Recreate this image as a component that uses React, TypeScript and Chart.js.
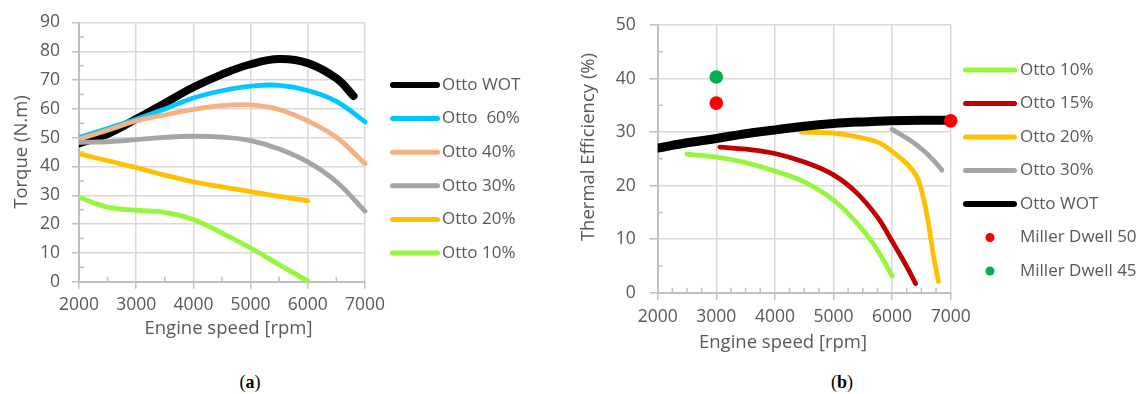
import { useEffect, useRef } from "react";
import { Chart, registerables } from "chart.js";

Chart.register(...registerables);

const FONT_FAMILY = "'Open Sans', sans-serif";
const TEXT_COLOR = "#595959";
const GRID_COLOR = "#d9d9d9";
const AXIS_COLOR = "#bfbfbf";

// ---- Panel (a): torque vs engine speed ----
const rpmTorqueFull = [2000, 2500, 3000, 3500, 4000, 4500, 5000, 5500, 6000, 6500, 7000];
const rpmTorqueWot = [2000, 2500, 3000, 3500, 4000, 4500, 5000, 5500, 6000, 6500, 6800];
const rpmTorqueLow = [2000, 2500, 3000, 3500, 4000, 4500, 5000, 5500, 6000];

const torqueWot = [48, 51.3, 56.5, 62, 67.5, 72, 75.5, 77.3, 75.9, 70.6, 64.5];
const torque60 = [50.1, 53.2, 56.4, 60, 63.8, 66.3, 67.9, 68.2, 66.4, 62.6, 55.5];
const torque40 = [49.5, 52.6, 55.8, 57.9, 59.8, 61.1, 61.4, 59.8, 55.8, 50.1, 41];
const torque30 = [48.4, 48.6, 49.3, 50.1, 50.5, 50.2, 49, 46.1, 41.6, 34.7, 24.5];
const torque20 = [44.4, 42, 39.6, 37, 34.7, 32.9, 31.3, 29.6, 28.1];
const torque10 = [29.3, 25.9, 24.8, 24.1, 21.6, 16.9, 11.7, 5.9, 0.2];

// ---- Panel (b): thermal efficiency vs engine speed ----
const rpmEffWot = [2000, 2500, 3000, 3500, 4000, 4500, 5000, 5500, 6000, 6500, 7000];
const effWot = [27, 28, 28.8, 29.7, 30.4, 31.1, 31.6, 31.9, 32.1, 32.2, 32.2];

const rpmEff10 = [2500, 3000, 3500, 4000, 4500, 5000, 5400, 5650, 5850, 6000];
const eff10 = [25.9, 25.3, 24.3, 22.7, 20.7, 17.3, 13, 9.6, 6.1, 3.1];

const rpmEff15 = [3060, 3500, 4000, 4500, 5000, 5400, 5750, 6000, 6250, 6400];
const eff15 = [27.2, 26.8, 26, 24.4, 22, 18.6, 14.1, 9.6, 4.9, 1.7];

const rpmEff20 = [4450, 5000, 5450, 5800, 6000, 6300, 6450, 6530, 6620, 6700, 6790];
const eff20 = [30, 29.8, 29, 27.9, 26.4, 23.5, 21, 17.9, 13, 7.3, 2.1];

const rpmEff30 = [6000, 6300, 6530, 6700, 6850];
const eff30 = [30.5, 28.5, 26.6, 24.8, 22.9];

const rpmMiller50 = [3000, 7000];
const effMiller50 = [35.4, 32.1];
const rpmMiller45 = [3000];
const effMiller45 = [40.3];

type Series = {
  label: string;
  rpm: number[];
  values: number[];
  color: string;
  width: number;
  legendWidth: number;
  dot?: boolean;
  monotone?: boolean;
};

const torqueSeries: Series[] = [
  { label: "Otto WOT", rpm: rpmTorqueWot, values: torqueWot, color: "#000000", width: 8, legendWidth: 6 },
  { label: "Otto  60%", rpm: rpmTorqueFull, values: torque60, color: "#00c8ff", width: 4.8, legendWidth: 5 },
  { label: "Otto 40%", rpm: rpmTorqueFull, values: torque40, color: "#f4b183", width: 4.8, legendWidth: 5 },
  { label: "Otto 30%", rpm: rpmTorqueFull, values: torque30, color: "#a5a5a5", width: 4.8, legendWidth: 5 },
  { label: "Otto 20%", rpm: rpmTorqueLow, values: torque20, color: "#ffc000", width: 4.8, legendWidth: 5 },
  { label: "Otto 10%", rpm: rpmTorqueLow, values: torque10, color: "#96f53c", width: 4.8, legendWidth: 5 },
];

const efficiencySeries: Series[] = [
  { label: "Otto 10%", rpm: rpmEff10, values: eff10, color: "#96f53c", width: 4.8, legendWidth: 5 },
  { label: "Otto 15%", rpm: rpmEff15, values: eff15, color: "#c00000", width: 4.8, legendWidth: 5 },
  { label: "Otto 20%", rpm: rpmEff20, values: eff20, color: "#ffc000", width: 4.8, legendWidth: 5, monotone: true },
  { label: "Otto 30%", rpm: rpmEff30, values: eff30, color: "#a5a5a5", width: 4.8, legendWidth: 5 },
  { label: "Otto WOT", rpm: rpmEffWot, values: effWot, color: "#000000", width: 9, legendWidth: 6 },
  { label: "Miller Dwell 50", rpm: rpmMiller50, values: effMiller50, color: "#ff0000", width: 0, legendWidth: 0, dot: true },
  { label: "Miller Dwell 45", rpm: rpmMiller45, values: effMiller45, color: "#00b050", width: 0, legendWidth: 0, dot: true },
];

const toPoints = (xs: number[], ys: number[]) => xs.map((x, i) => ({ x, y: ys[i] }));

function toDatasets(series: Series[]) {
  // Later series are painted over earlier ones, so feed them to Chart.js reversed.
  return [...series].reverse().map((s) =>
    s.dot
      ? {
          label: s.label,
          data: toPoints(s.rpm, s.values),
          showLine: false,
          pointRadius: 6.8,
          pointBackgroundColor: s.color,
          pointBorderWidth: 0,
          borderColor: s.color,
          clip: false as const,
        }
      : {
          label: s.label,
          data: toPoints(s.rpm, s.values),
          borderColor: s.color,
          borderWidth: s.width,
          borderCapStyle: "round" as const,
          borderJoinStyle: "round" as const,
          pointRadius: 0,
          tension: 0.4,
          cubicInterpolationMode: s.monotone ? ("monotone" as const) : ("default" as const),
          clip: { left: 0, top: 10, right: 10, bottom: 10 },
        }
  );
}

type Decor = {
  xMinorStep: number;
  yMinorStep: number;
  xTitle: { text: string; x: number; y: number };
  yTitle: { text: string; x: number; y: number };
  legend: { lineX0: number; lineX1: number; textX: number; y0: number; step: number; series: Series[] };
};

function decorPlugin(d: Decor) {
  return {
    id: "panelDecor",
    beforeDatasetsDraw(chart: any) {
      const { ctx, chartArea, scales } = chart;
      const xs = scales.x;
      const ys = scales.y;
      ctx.save();
      ctx.strokeStyle = AXIS_COLOR;
      ctx.lineWidth = 1.5;
      ctx.beginPath();
      for (let v = xs.min + d.xMinorStep; v < xs.max; v += d.xMinorStep) {
        if (v % 1000 === 0) continue;
        const px = xs.getPixelForValue(v);
        ctx.moveTo(px, chartArea.bottom);
        ctx.lineTo(px, chartArea.bottom - 5);
      }
      for (let v = ys.min + d.yMinorStep; v < ys.max; v += d.yMinorStep) {
        if (v % 10 === 0) continue;
        const py = ys.getPixelForValue(v);
        ctx.moveTo(chartArea.left, py);
        ctx.lineTo(chartArea.left + 5, py);
      }
      ctx.stroke();
      ctx.restore();
    },
    afterDraw(chart: any) {
      const { ctx } = chart;
      ctx.save();
      ctx.fillStyle = TEXT_COLOR;
      ctx.textAlign = "center";
      ctx.textBaseline = "middle";
      ctx.font = `18.5px ${FONT_FAMILY}`;
      ctx.fillText(d.xTitle.text, d.xTitle.x, d.xTitle.y);
      ctx.save();
      ctx.translate(d.yTitle.x, d.yTitle.y);
      ctx.rotate(-Math.PI / 2);
      ctx.fillText(d.yTitle.text, 0, 0);
      ctx.restore();

      const L = d.legend;
      ctx.font = `17px ${FONT_FAMILY}`;
      ctx.textAlign = "left";
      L.series.forEach((s, i) => {
        const y = L.y0 + i * L.step;
        if (s.dot) {
          ctx.fillStyle = s.color;
          ctx.beginPath();
          ctx.arc((L.lineX0 + L.lineX1) / 2, y, 4.5, 0, Math.PI * 2);
          ctx.fill();
        } else {
          ctx.strokeStyle = s.color;
          ctx.lineWidth = s.legendWidth;
          ctx.lineCap = "round";
          ctx.beginPath();
          ctx.moveTo(L.lineX0 + s.legendWidth / 2, y);
          ctx.lineTo(L.lineX1 - s.legendWidth / 2, y);
          ctx.stroke();
        }
        ctx.fillStyle = TEXT_COLOR;
        ctx.fillText(s.label, L.textX, y);
      });
      ctx.restore();
    },
  };
}

function axisOptions(opts: {
  min: number;
  max: number;
  step: number;
  tickPadding: number;
  tickLength: number;
  fit: (s: any) => void;
}) {
  return {
    type: "linear" as const,
    min: opts.min,
    max: opts.max,
    ticks: {
      stepSize: opts.step,
      color: TEXT_COLOR,
      font: { family: FONT_FAMILY, size: 17.5 },
      padding: opts.tickPadding,
      maxRotation: 0,
      autoSkip: false,
      callback: (v: any) => String(v),
    },
    grid: {
      color: GRID_COLOR,
      lineWidth: 1.5,
      tickLength: opts.tickLength,
      tickColor: AXIS_COLOR,
      tickWidth: 1.5,
    },
    border: { color: AXIS_COLOR, width: 2 },
    afterFit: opts.fit,
  };
}

function buildTorqueConfig() {
  return {
    type: "line" as const,
    data: { datasets: toDatasets(torqueSeries) },
    options: {
      responsive: false,
      animation: false as const,
      devicePixelRatio: 1,
      events: [],
      layout: { padding: { left: 4, top: 18.5, right: 195, bottom: 18.3 } },
      plugins: { legend: { display: false }, tooltip: { enabled: false } },
      scales: {
        x: axisOptions({ min: 2000, max: 7000, step: 1000, tickPadding: 6, tickLength: 7, fit: (s) => { s.height = 60; } }),
        y: axisOptions({ min: 0, max: 90, step: 10, tickPadding: 12, tickLength: 7, fit: (s) => { s.width = 75; } }),
      },
    },
    plugins: [
      decorPlugin({
        xMinorStep: 500,
        yMinorStep: 5,
        xTitle: { text: "Engine speed [rpm]", x: 228.5, y: 329 },
        yTitle: { text: "Torque (N.m)", x: 22, y: 152 },
        legend: { lineX0: 390, lineX1: 440, textX: 442, y0: 85, step: 33.6, series: torqueSeries },
      }),
    ],
  };
}

function buildEfficiencyConfig() {
  return {
    type: "line" as const,
    data: { datasets: toDatasets(efficiencySeries) },
    options: {
      responsive: false,
      animation: false as const,
      devicePixelRatio: 1,
      events: [],
      layout: { padding: { left: 4, top: 25, right: 194.3, bottom: 5.3 } },
      plugins: { legend: { display: false }, tooltip: { enabled: false } },
      scales: {
        x: axisOptions({ min: 2000, max: 7000, step: 1000, tickPadding: 7, tickLength: 7, fit: (s) => { s.height = 62; } }),
        y: axisOptions({ min: 0, max: 50, step: 10, tickPadding: 14, tickLength: 8, fit: (s) => { s.width = 93.7; } }),
      },
    },
    plugins: [
      decorPlugin({
        xMinorStep: 250,
        yMinorStep: 5,
        xTitle: { text: "Engine speed [rpm]", x: 223, y: 343 },
        yTitle: { text: "Thermal Efficiency (%)", x: 29, y: 147 },
        legend: { lineX0: 403, lineX1: 457, textX: 460, y0: 70, step: 33.5, series: efficiencySeries },
      }),
    ],
  };
}

function ChartCanvas(props: { left: number; width: number; height: number; build: () => any }) {
  const ref = useRef<HTMLCanvasElement | null>(null);
  useEffect(() => {
    if (!ref.current) return;
    const chart = new Chart(ref.current, props.build());
    return () => chart.destroy();
  }, []);
  return (
    <canvas
      ref={ref}
      width={props.width}
      height={props.height}
      style={{ position: "absolute", left: props.left, top: 0, width: props.width, height: props.height }}
    />
  );
}

const captionStyle = (cx: number): React.CSSProperties => ({
  position: "absolute",
  left: cx,
  top: 382,
  transform: "translate(-50%, -50%)",
  fontFamily: "'Liberation Serif', 'Times New Roman', serif",
  fontSize: 18,
  lineHeight: 1,
  color: "#000",
});

export default function App() {
  return (
    <div style={{ position: "absolute", left: 0, top: 0, width: 1145, height: 394, background: "#fff" }}>
      <ChartCanvas left={0} width={560} height={360} build={buildTorqueConfig} />
      <ChartCanvas left={560} width={585} height={360} build={buildEfficiencyConfig} />
      <div style={captionStyle(250)}>
        (<b>a</b>)
      </div>
      <div style={captionStyle(842)}>
        (<b>b</b>)
      </div>
    </div>
  );
}
